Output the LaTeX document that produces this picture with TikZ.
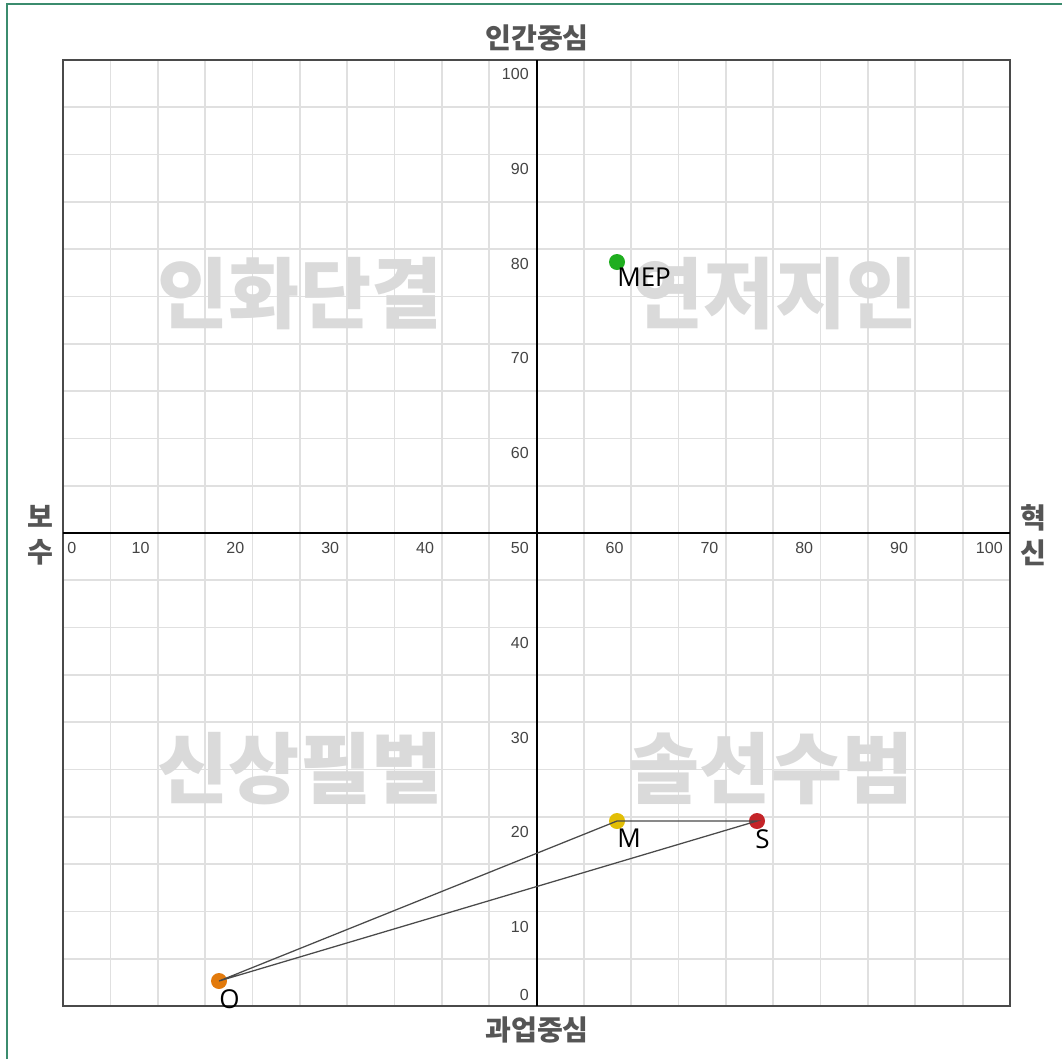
\documentclass[tikz,border=0pt]{standalone}
\usepackage{fontspec}
\setmainfont{Liberation Sans}
\newfontfamily\krfont{Noto Sans CJK KR}
\newfontfamily\ptfont{Open Sans}
\usetikzlibrary{positioning}
\definecolor{framegreen}{HTML}{3B8C6E}
\definecolor{gridgray}{HTML}{E0E0E0}
\definecolor{boxgray}{HTML}{4A4A4A}
\definecolor{titlegray}{HTML}{555555}
\definecolor{markgray}{HTML}{DADADA}
\definecolor{tickgray}{HTML}{444444}
\definecolor{linkgray}{HTML}{4A4A4A}
\definecolor{mepgreen}{HTML}{1FAE1F}
\definecolor{mgold}{HTML}{E2BE05}
\definecolor{sred}{HTML}{C42428}
\definecolor{oorange}{HTML}{E27A0C}

\begin{document}
\begin{tikzpicture}[x=0.025cm, y=-0.025cm,
  axis title/.style={font=\krfont\bfseries\fontsize{20}{25}\selectfont, text=titlegray, align=center, inner sep=0pt},
  quad mark/.style={font=\krfont\bfseries\fontsize{55}{55}\selectfont, text=markgray, inner sep=0pt},
  tick label/.style={font=\fontsize{11.4}{12}\selectfont, text=tickgray, inner sep=0pt},
  dot/.style={circle, minimum size=0.4cm, inner sep=0pt, fill=#1},
  dot label/.style={font=\ptfont\fontsize{18.5}{18.5}\selectfont, inner sep=0pt},
  link/.style={draw=linkgray, line width=0.9pt}]
  \useasboundingbox (0,0) rectangle (1062,1059);
  \draw[framegreen, line width=1.4pt] (7,1059) -- (7,4) -- (1062,4);

  \foreach \i in {1,...,19} {
    \draw[gridgray, line width=1.2pt] ({63+47.35*\i},60) -- ({63+47.35*\i},1006);
    \draw[gridgray, line width=1.2pt] (63,{60+47.3*\i}) -- (1010,{60+47.3*\i});
  }

  \node[quad mark] (q1) at (300,294) {인화단결};
  \node[quad mark] (q2) at (775,294) {연저지인};
  \node[quad mark] (q3) at (300,769) {신상필벌};
  \node[quad mark] (q4) at (771,769) {솔선수범};

  \draw[boxgray, line width=1.6pt] (63,60) rectangle (1010,1006);
  \draw[black, line width=1.1pt] (537,60) -- (537,1006);
  \draw[black, line width=1.1pt] (63,533) -- (1010,533);

  \node[axis title] (top) at (537,38) {인간중심};
  \node[axis title] (bottom) at (537,1030) {과업중심};
  \node[axis title] (left) at (40,535) {보\\수};
  \node[axis title] (right) at (1033,535) {혁\\신};

  \node[tick label, anchor=west] (x0) at (67,548) {0};
  \foreach \v in {10,20,...,100}
    \node[tick label, anchor=east] (x\v) at ({55+9.48*\v},548) {\v};
  \foreach \v in {10,20,30,40,60,70,80,90,100}
    \node[tick label, anchor=east] (y\v) at (529,{548-9.48*(\v-50)}) {\v};
  \node[tick label, anchor=east] (y0) at (529,995) {0};

  \node[dot=mepgreen] (MEP) at (617,262) {};
  \node[dot=mgold] (M) at (617,821) {};
  \node[dot=sred] (S) at (757,821) {};
  \node[dot=oorange] (O) at (219,981) {};

  \draw[link] (O.center) -- (M.center) -- (S.center) -- (O.center);

  \node[dot label, below right=0.15cm and 0cm of MEP.center] (lMEP) {MEP};
  \node[dot label, below right=0.2cm and 0cm of M.center] (lM) {M};
  \node[dot label, below right=0.2cm and -0.05cm of S.center] (lS) {S};
  \node[dot label, below right=0.2cm and 0cm of O.center] (lO) {O};
\end{tikzpicture}
\end{document}
